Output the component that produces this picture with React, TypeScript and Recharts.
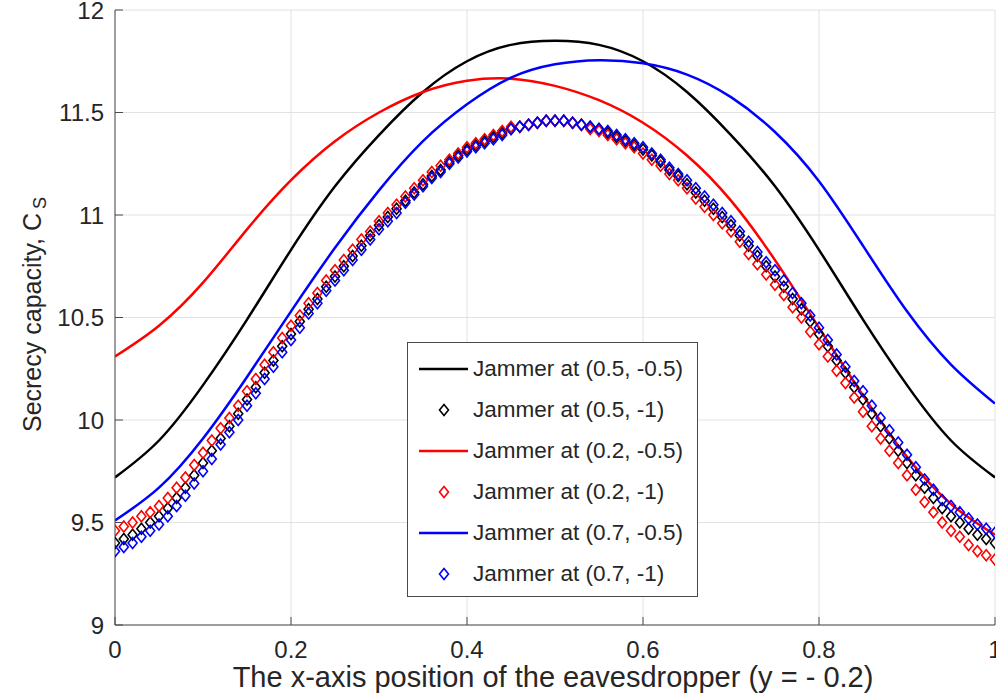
import React from 'react';
import { ComposedChart, Line, Scatter, XAxis, YAxis, CartesianGrid, Legend, Label } from 'recharts';

const xMarker = [
  0, 0.01, 0.02, 0.03, 0.04, 0.05, 0.06, 0.07, 0.08, 0.09,
  0.1, 0.11, 0.12, 0.13, 0.14, 0.15, 0.16, 0.17, 0.18, 0.19,
  0.2, 0.21, 0.22, 0.23, 0.24, 0.25, 0.26, 0.27, 0.28, 0.29,
  0.3, 0.31, 0.32, 0.33, 0.34, 0.35, 0.36, 0.37, 0.38, 0.39,
  0.4, 0.41, 0.42, 0.43, 0.44, 0.45, 0.46, 0.47, 0.48, 0.49,
  0.5,
  0.51, 0.52, 0.53, 0.54, 0.55, 0.56, 0.57, 0.58, 0.59, 0.6,
  0.61, 0.62, 0.63, 0.64, 0.65, 0.66, 0.67, 0.68, 0.69, 0.7,
  0.71, 0.72, 0.73, 0.74, 0.75, 0.76, 0.77, 0.78, 0.79, 0.8,
  0.81, 0.82, 0.83, 0.84, 0.85, 0.86, 0.87, 0.88, 0.89, 0.9,
  0.91, 0.92, 0.93, 0.94, 0.95, 0.96, 0.97, 0.98, 0.99, 1,
];

const xLine = [0, 0.05, 0.1, 0.15, 0.2, 0.25, 0.3, 0.35, 0.4, 0.45, 0.5, 0.55, 0.6, 0.65, 0.7, 0.75, 0.8, 0.85, 0.9, 0.95, 1];

// Jammer at (0.5, -0.5) — solid black
const blackLine = [9.72, 9.9, 10.17, 10.49, 10.83, 11.14, 11.39, 11.6, 11.75, 11.83, 11.85, 11.83, 11.75, 11.6, 11.39, 11.14, 10.83, 10.49, 10.17, 9.9, 9.72];
// Jammer at (0.2, -0.5) — solid red
const redLine = [10.31, 10.46, 10.67, 10.93, 11.17, 11.36, 11.5, 11.6, 11.655, 11.665, 11.63, 11.56, 11.45, 11.29, 11.07, 10.78, 10.45, 10.12, 9.82, 9.59, 9.44];
// Jammer at (0.7, -0.5) — solid blue
const blueLine = [9.51, 9.67, 9.91, 10.21, 10.53, 10.84, 11.12, 11.36, 11.54, 11.67, 11.735, 11.755, 11.74, 11.685, 11.575, 11.405, 11.165, 10.85, 10.53, 10.27, 10.08];

// Jammer at (0.5, -1) — black diamonds
const blackMarker = [
  9.4, 9.42, 9.44, 9.47, 9.5, 9.53, 9.57, 9.62, 9.67, 9.73,
  9.79, 9.85, 9.91, 9.97, 10.03, 10.1, 10.16, 10.23, 10.29, 10.36,
  10.42, 10.48, 10.54, 10.59, 10.65, 10.7, 10.75, 10.8, 10.85, 10.9,
  10.95, 10.99, 11.03, 11.07, 11.11, 11.15, 11.19, 11.22, 11.26, 11.29,
  11.32, 11.34, 11.36, 11.38, 11.4, 11.42, 11.43, 11.44, 11.45, 11.46,
  11.46,
  11.46, 11.45, 11.44, 11.43, 11.42, 11.4, 11.38, 11.36, 11.34, 11.32,
  11.29, 11.26, 11.22, 11.19, 11.15, 11.11, 11.07, 11.03, 10.99, 10.95,
  10.9, 10.85, 10.8, 10.75, 10.7, 10.65, 10.59, 10.54, 10.48, 10.42,
  10.36, 10.29, 10.23, 10.16, 10.1, 10.03, 9.97, 9.91, 9.85, 9.79,
  9.73, 9.67, 9.62, 9.57, 9.53, 9.5, 9.47, 9.44, 9.42, 9.4,
];
// Jammer at (0.2, -1) — red diamonds
const redMarker = [
  9.46, 9.48, 9.5, 9.53, 9.55, 9.58, 9.62, 9.67, 9.72, 9.78,
  9.84, 9.9, 9.96, 10.01, 10.07, 10.14, 10.2, 10.27, 10.33, 10.4,
  10.46, 10.51, 10.57, 10.62, 10.68, 10.73, 10.78, 10.83, 10.88, 10.92,
  10.97, 11.01, 11.05, 11.09, 11.13, 11.17, 11.21, 11.24, 11.27, 11.3,
  11.33, 11.35, 11.37, 11.39, 11.41, 11.43, 11.43, 11.44, 11.45, 11.46,
  11.46,
  11.46, 11.45, 11.44, 11.42, 11.41, 11.39, 11.37, 11.35, 11.33, 11.3,
  11.27, 11.24, 11.2, 11.17, 11.13, 11.08, 11.04, 11.0, 10.96, 10.92,
  10.87, 10.81, 10.76, 10.71, 10.66, 10.61, 10.55, 10.5, 10.43, 10.37,
  10.31, 10.24, 10.18, 10.11, 10.04, 9.97, 9.91, 9.85, 9.79, 9.73,
  9.66, 9.6, 9.55, 9.5, 9.46, 9.43, 9.39, 9.36, 9.34, 9.32,
];
// Jammer at (0.7, -1) — blue diamonds
const blueMarker = [
  9.36, 9.38, 9.4, 9.43, 9.46, 9.49, 9.53, 9.58, 9.63, 9.69,
  9.75, 9.81, 9.88, 9.94, 10.0, 10.07, 10.13, 10.2, 10.26, 10.33,
  10.39, 10.45, 10.52, 10.57, 10.63, 10.68, 10.73, 10.78, 10.83, 10.88,
  10.93, 10.97, 11.01, 11.06, 11.1, 11.14, 11.18, 11.21, 11.25, 11.28,
  11.31, 11.33, 11.35, 11.37, 11.39, 11.42, 11.43, 11.44, 11.45, 11.46,
  11.46,
  11.46, 11.45, 11.44, 11.43, 11.42, 11.41, 11.39, 11.37, 11.35, 11.33,
  11.3, 11.27, 11.23, 11.2, 11.17, 11.13, 11.09, 11.05, 11.01, 10.97,
  10.92, 10.87, 10.82, 10.77, 10.73, 10.68, 10.62, 10.57, 10.51, 10.45,
  10.39, 10.32, 10.26, 10.19, 10.14, 10.07, 10.01, 9.95, 9.89, 9.83,
  9.77, 9.71, 9.66, 9.61, 9.58, 9.55, 9.52, 9.49, 9.47, 9.45,
];

const xTicks = [0, 0.2, 0.4, 0.6, 0.8, 1];
const yTicks = [9, 9.5, 10, 10.5, 11, 11.5, 12];

const seriesNames = [
  'Jammer at (0.5, -0.5)',
  'Jammer at (0.5, -1)',
  'Jammer at (0.2, -0.5)',
  'Jammer at (0.2, -1)',
  'Jammer at (0.7, -0.5)',
  'Jammer at (0.7, -1)',
];
const seriesColors = ['#000000', '#000000', '#ff0000', '#ff0000', '#0000ff', '#0000ff'];
const seriesKinds = ['line', 'marker', 'line', 'marker', 'line', 'marker'];

const xLabelText = 'The x-axis position of the eavesdropper (y = - 0.2)';
const yLabelText = 'Secrecy capacity, C';
const yLabelSub = 'S';

const FONT = '"Liberation Sans", Arial, Helvetica, sans-serif';
const TEXT = '#262626';
const AXIS = '#4a4a4a';

const pts = (xs: number[], ys: number[]) => xs.map((x, i) => ({ x, y: ys[i] }));

const makeDiamond = (color: string) => (props: any) => {
  const { cx, cy } = props;
  if (cx == null || cy == null || isNaN(cx) || isNaN(cy)) return <g />;
  return (
    <polygon
      points={`${cx},${cy - 5.5} ${cx + 4.5},${cy} ${cx},${cy + 5.5} ${cx - 4.5},${cy}`}
      fill="none"
      stroke={color}
      strokeWidth={1.6}
    />
  );
};

const XLab = (props: any) => {
  const vb = props.viewBox || { x: 115, y: 625, width: 880, height: 73 };
  return (
    <text x={vb.x + vb.width / 2 - 2} y={vb.y + 62} textAnchor="middle" fill={TEXT} fontSize={29} fontFamily={FONT}>
      {xLabelText}
    </text>
  );
};

const YLab = (props: any) => {
  const vb = props.viewBox || { x: 0, y: 10, width: 115, height: 615 };
  const cx = vb.x + 41;
  const cy = vb.y + vb.height / 2 - 3;
  return (
    <text x={cx} y={cy} transform={`rotate(-90, ${cx}, ${cy})`} textAnchor="middle" fill={TEXT} fontSize={25} fontFamily={FONT}>
      {yLabelText}
      <tspan dx={4} dy={5} fontSize={18}>{yLabelSub}</tspan>
    </text>
  );
};

const LegendBox = () => (
  <div
    style={{
      width: 291,
      height: 255,
      boxSizing: 'border-box',
      border: `1px solid ${AXIS}`,
      background: '#ffffff',
      paddingTop: 5,
      fontFamily: FONT,
    }}
  >
    {seriesNames.map((name, i) => (
      <div key={name} style={{ height: 41, display: 'flex', alignItems: 'center' }}>
        <svg width={65} height={20} style={{ flex: 'none' }}>
          {seriesKinds[i] === 'line' ? (
            <line x1={11} y1={10} x2={60} y2={10} stroke={seriesColors[i]} strokeWidth={2.5} />
          ) : (
            <polygon points="36,4.5 40.5,10 36,15.5 31.5,10" fill="none" stroke={seriesColors[i]} strokeWidth={1.6} />
          )}
        </svg>
        <span style={{ fontSize: 22.5, color: TEXT, whiteSpace: 'nowrap' }}>{name}</span>
      </div>
    ))}
  </div>
);

export default function App() {
  const tickStyle = { fill: TEXT, fontSize: 24, fontFamily: FONT };
  return (
    <div style={{ position: 'absolute', left: 0, top: 0, width: 996, height: 698, background: '#fff' }}>
      <ComposedChart width={996} height={698} margin={{ top: 10, right: 1, bottom: 0, left: 0 }}>
        <CartesianGrid stroke="#e2e2e2" strokeWidth={1} />
        <XAxis
          dataKey="x"
          type="number"
          domain={[0, 1]}
          ticks={xTicks}
          interval={0}
          allowDataOverflow
          height={73}
          tickSize={-8}
          tickMargin={24}
          tick={tickStyle}
          axisLine={{ stroke: AXIS }}
          tickLine={{ stroke: AXIS }}
        >
          <Label content={XLab} />
        </XAxis>
        <XAxis
          xAxisId="top"
          orientation="top"
          dataKey="x"
          type="number"
          domain={[0, 1]}
          ticks={xTicks}
          interval={0}
          height={0}
          tickSize={-8}
          tick={false}
          axisLine={{ stroke: AXIS }}
          tickLine={{ stroke: AXIS }}
        />
        <YAxis
          dataKey="y"
          type="number"
          domain={[9, 12]}
          ticks={yTicks}
          interval={0}
          allowDataOverflow
          width={115}
          tickSize={-8}
          tickMargin={19}
          tick={tickStyle}
          axisLine={{ stroke: AXIS }}
          tickLine={{ stroke: AXIS }}
        >
          <Label content={YLab} />
        </YAxis>
        <YAxis
          yAxisId="right"
          orientation="right"
          dataKey="y"
          type="number"
          domain={[9, 12]}
          ticks={yTicks}
          interval={0}
          width={0}
          tickSize={-8}
          tick={false}
          axisLine={{ stroke: AXIS }}
          tickLine={{ stroke: AXIS }}
        />
        <Line data={pts(xLine, blackLine)} dataKey="y" type="natural" stroke="#000000" strokeWidth={2.5} dot={false} activeDot={false} isAnimationActive={false} name={seriesNames[0]} />
        <Scatter data={pts(xMarker, blackMarker)} dataKey="y" shape={makeDiamond('#000000')} isAnimationActive={false} name={seriesNames[1]} />
        <Line data={pts(xLine, redLine)} dataKey="y" type="natural" stroke="#ff0000" strokeWidth={2.5} dot={false} activeDot={false} isAnimationActive={false} name={seriesNames[2]} />
        <Scatter data={pts(xMarker, redMarker)} dataKey="y" shape={makeDiamond('#ff0000')} isAnimationActive={false} name={seriesNames[3]} />
        <Line data={pts(xLine, blueLine)} dataKey="y" type="natural" stroke="#0000ff" strokeWidth={2.5} dot={false} activeDot={false} isAnimationActive={false} name={seriesNames[4]} />
        <Scatter data={pts(xMarker, blueMarker)} dataKey="y" shape={makeDiamond('#0000ff')} isAnimationActive={false} name={seriesNames[5]} />
        <Legend
          layout="vertical"
          align="center"
          verticalAlign="middle"
          content={() => <LegendBox />}
          wrapperStyle={{ position: 'absolute', left: 407, top: 342, width: 291, height: 255, margin: 0, padding: 0 }}
        />
      </ComposedChart>
    </div>
  );
}
